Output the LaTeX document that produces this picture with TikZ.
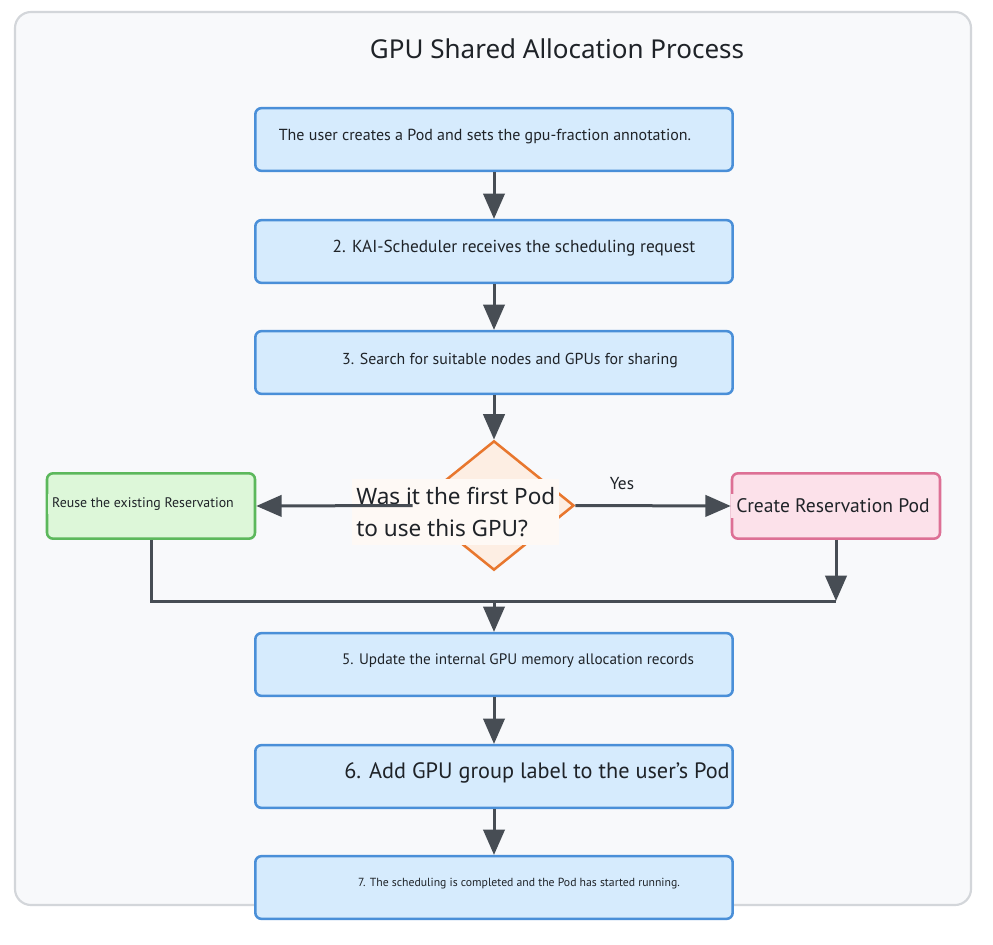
\documentclass[tikz,border=0pt]{standalone}
\usepackage{fontspec}
\setmainfont{PT Sans}
\newfontfamily\titlefont{Noto Sans}
\usetikzlibrary{shapes.geometric,arrows.meta}

\definecolor{framebg}{HTML}{F8F9FB}
\definecolor{frameline}{HTML}{D3D6DA}
\definecolor{stepfill}{HTML}{D6EBFD}
\definecolor{stepline}{HTML}{4A8FD8}
\definecolor{reusefill}{HTML}{DDF7D9}
\definecolor{reuseline}{HTML}{5CB85C}
\definecolor{createfill}{HTML}{FCE1EA}
\definecolor{createline}{HTML}{DD7095}
\definecolor{askfill}{HTML}{FDEEE3}
\definecolor{askline}{HTML}{E8772E}
\definecolor{askbg}{HTML}{FEF9F5}
\definecolor{flowline}{HTML}{474D54}
\definecolor{txt}{HTML}{1F2328}

\tikzset{
    stepbox/.style={draw=stepline, fill=stepfill, line width=1.9pt, rounded corners=4.5pt,
        minimum width=358pt, minimum height=47pt, inner sep=0pt},
    sidebox/.style={line width=1.9pt, rounded corners=4.5pt,
        minimum width=156pt, minimum height=49pt, inner sep=0pt},
    steptext/.style={text=txt, inner sep=0pt},
    flow/.style={draw=flowline, line width=2.25pt},
    flowarrow/.style={flow, -{Triangle[width=16pt,length=19pt]}}
}

\begin{document}
\begin{tikzpicture}[x=0.75pt, y=-0.75pt]
    \useasboundingbox (0,0) rectangle (993,945);
    \fill[white] (0,0) rectangle (993,945);

    % frame and title
    \draw[fill=framebg, draw=frameline, line width=1.6pt, rounded corners=12pt] (15,12) rectangle (971,905);
    \node[steptext, font=\titlefont\fontsize{19.5}{23}\selectfont] (title) at (557,49) {GPU Shared Allocation Process};

    % main steps
    \node[stepbox] (b1) at (494,139.5) {};
    \node[stepbox] (b2) at (494,251.5) {};
    \node[stepbox] (b3) at (494,362.5) {};
    \node[stepbox] (b5) at (494,664.5) {};
    \node[stepbox] (b6) at (494,776.5) {};
    \node[stepbox] (b7) at (494,887.5) {};

    \node[steptext, font=\fontsize{12}{14}\selectfont] (t1) at (485,137) {The user creates a Pod and sets the gpu-fraction annotation.};
    \node[steptext, font=\fontsize{13}{15}\selectfont] (t2) at (514,248) {2. KAI-Scheduler receives the scheduling request};
    \node[steptext, font=\fontsize{11.9}{14}\selectfont] (t3) at (510,361) {3. Search for suitable nodes and GPUs for sharing};
    \node[steptext, font=\fontsize{11.4}{13}\selectfont] (t5) at (518,661) {5. Update the internal GPU memory allocation records};
    \node[steptext, font=\fontsize{16.7}{19}\selectfont] (t6) at (537,773) {6. Add GPU group label to the user's Pod};
    \node[steptext, font=\fontsize{8.8}{10}\selectfont] (t7) at (519,884) {7. The scheduling is completed and the Pod has started running.};

    % decision
    \node[diamond, draw=askline, fill=askfill, line width=1.9pt, inner sep=0pt,
        minimum width=120pt, minimum height=97pt] (ask) at (494,505.5) {};
    \node[steptext, fill=askbg, anchor=west, align=left, inner xsep=3pt, inner ysep=6pt,
        font=\titlefont\fontsize{16.9}{24.5}\selectfont] (askt) at (352,512) {Was it the first Pod\\to use this GPU?};

    % the two branches
    \node[sidebox, draw=reuseline, fill=reusefill] (reuse) at (151,506) {};
    \node[steptext, fill=reusefill, inner sep=3pt, font=\fontsize{10.4}{12}\selectfont] (reuset) at (143,504) {Reuse the existing Reservation};
    \node[sidebox, draw=createline, fill=createfill] (create) at (836,506) {};
    \node[steptext, fill=createfill, inner sep=4pt, font=\fontsize{14.7}{17}\selectfont] (createt) at (833,506) {Create Reservation Pod};

    % connectors
    \draw[flowarrow] (b1.south) -- (b2.north);
    \draw[flowarrow] (b2.south) -- (b3.north);
    \draw[flowarrow] (b3.south) -- (ask.north);
    \draw[flowarrow] (ask.west) -- (reuse.east);
    \draw[flowarrow] (ask.east) -- node[steptext, pos=0.3, above=10.5pt, font=\fontsize{13}{15}\selectfont] (yes) {Yes} (create.west);

    \coordinate (join) at (494,601);
    \draw[flow] (reuse.south) -- (reuse.south |- join) -- (create.south |- join);
    \draw[flowarrow] (create.south) -- (create.south |- join);
    \draw[flowarrow] (join) -- (b5.north);
    \draw[flowarrow] (b5.south) -- (b6.north);
    \draw[flowarrow] (b6.south) -- (b7.north);
\end{tikzpicture}
\end{document}
